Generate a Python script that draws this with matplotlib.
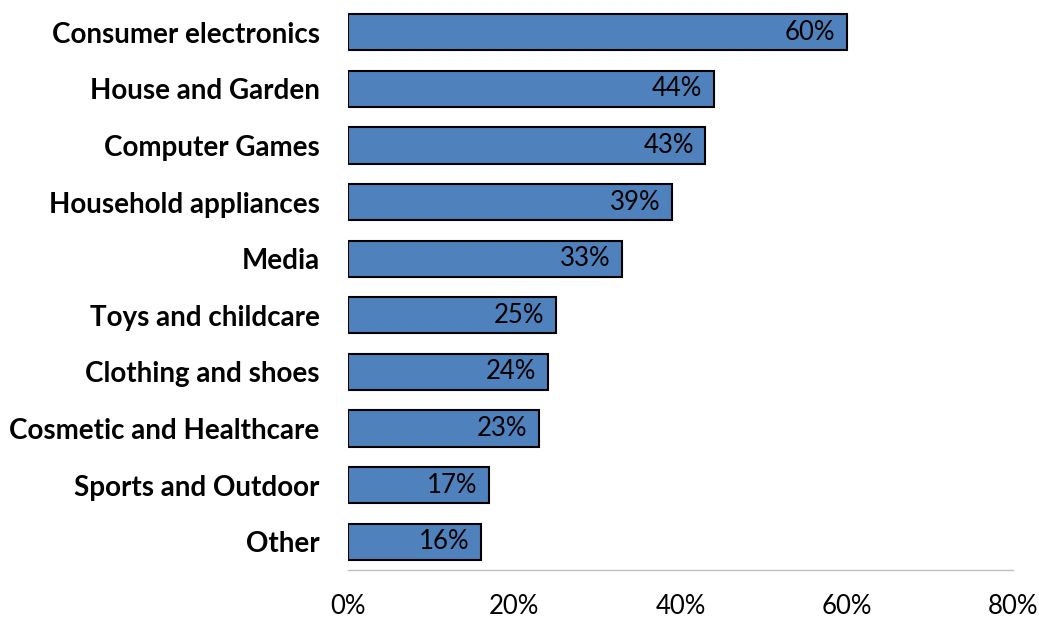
import matplotlib.pyplot as plt

# Данные
categories = ["Consumer electronics", "House and Garden", "Computer Games",
              "Household appliances", "Media", "Toys and childcare",
              "Clothing and shoes", "Cosmetic and Healthcare",
              "Sports and Outdoor", "Other"]
shares = [60, 44, 43, 39, 33, 25, 24, 23, 17, 16]
ticks = [0, 20, 40, 60, 80]

plt.rcParams['font.family'] = ['Lato', 'DejaVu Sans']

fig = plt.figure(figsize=(10.39, 6.17), dpi=100)
ax = fig.add_axes([0.335, 0.0762, 0.64, 0.9173])

y = range(len(categories))
ax.barh(y, shares, height=0.64, color='#4F81BD', edgecolor='black', linewidth=1.5)

for yi, v in zip(y, shares):
    ax.text(v - 1.4, yi, f"{v}%", ha='right', va='center', fontsize=18.5, color='black')

ax.set_ylim(len(categories) - 0.5, -0.5)
ax.set_xlim(0, 80)
ax.set_yticks(list(y))
ax.set_yticklabels(categories, fontsize=20, fontweight='bold')
ax.set_xticks(ticks)
ax.set_xticklabels([f"{t}%" for t in ticks], fontsize=18.5)
ax.tick_params(length=0)
ax.tick_params(axis='y', pad=20.5)
ax.tick_params(axis='x', pad=17)

for s in ['top', 'right', 'left']:
    ax.spines[s].set_visible(False)
ax.spines['bottom'].set_color('#BFBFBF')
ax.spines['bottom'].set_linewidth(1)

fig.savefig('out.png', dpi=100)
